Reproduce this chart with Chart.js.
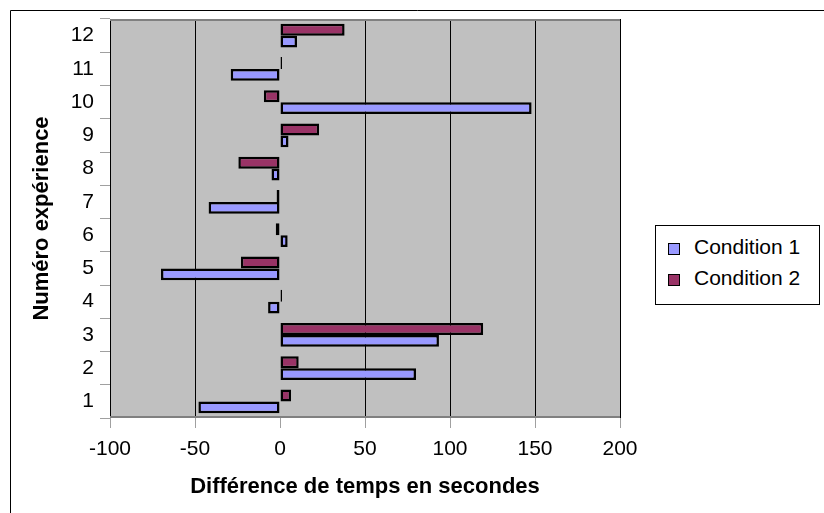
<!DOCTYPE html>
<html>
<head>
<meta charset="utf-8">
<script src="https://cdn.jsdelivr.net/npm/chart.js@4"></script>
<style>
    body { margin: 0; background: #fff; }
    #wrap { position: relative; width: 824px; height: 513px; }
    #legendBox {
        position: absolute; left: 655px; top: 225px; width: 165px; height: 80px;
        border: 1px solid #000; background: #fff; box-sizing: border-box;
        font-family: "Liberation Sans", Arial, sans-serif; font-size: 21px; color: #000;
    }
    .item { position: absolute; left: 12px; height: 24px; line-height: 24px; white-space: nowrap; }
    .swatch { display: inline-block; width: 10px; height: 10px; border: 1.5px solid #000; vertical-align: -1px; margin-right: 14px; }
</style>
</head>
<body>
<div id="wrap">
    <canvas id="chart" width="824" height="513"></canvas>
    <div id="legendBox"></div>
</div>
<script>
const experiences = ['1', '2', '3', '4', '5', '6', '7', '8', '9', '10', '11', '12'];
const condition1 = [-48, 80, 93.5, -7, -70, 4.5, -42, -5, 5, 148, -29, 10];
const condition2 = [6.5, 11, 119.5, 1.2, -23, -2.5, -2, -24.5, 23, -9.5, 1.2, 38];
const xTicks = [-100, -50, 0, 50, 100, 150, 200];
const seriesNames = ['Condition 1', 'Condition 2'];
const seriesColors = ['#9999FF', '#993366'];

const font = '"Liberation Sans", Arial, sans-serif';

// gray plot area + outer frame
const plotBg = {
    id: 'plotBg',
    beforeDraw(chart) {
        const { ctx, chartArea: a } = chart;
        ctx.save();
        ctx.fillStyle = '#C0C0C0';
        ctx.fillRect(a.left, a.top, a.right - a.left, a.bottom - a.top);
        ctx.strokeStyle = '#000';
        ctx.lineWidth = 1;
        ctx.beginPath();
        ctx.moveTo(10.5, 513);
        ctx.lineTo(10.5, 10.5);
        ctx.lineTo(824, 10.5);
        ctx.stroke();
        ctx.restore();
    },
    beforeDatasetsDraw(chart) {
        const { ctx, chartArea: a } = chart;
        ctx.save();
        ctx.strokeStyle = '#808080';
        ctx.lineWidth = 2;
        ctx.beginPath();
        ctx.moveTo(a.left, a.top + 1);
        ctx.lineTo(a.right, a.top + 1);
        ctx.moveTo(a.left, a.bottom - 1);
        ctx.lineTo(a.right, a.bottom - 1);
        ctx.stroke();
        ctx.restore();
    }
};

const ctx = document.getElementById('chart').getContext('2d');
new Chart(ctx, {
    type: 'bar',
    data: {
        labels: experiences,
        datasets: [
            { label: seriesNames[1], data: condition2, backgroundColor: seriesColors[1] },
            { label: seriesNames[0], data: condition1, backgroundColor: seriesColors[0] }
        ]
    },
    options: {
        indexAxis: 'y',
        responsive: false,
        animation: false,
        layout: { padding: { top: 19, right: 204, bottom: 0, left: 0 } },
        datasets: {
            bar: {
                borderColor: '#000',
                borderWidth: 2.5,
                borderSkipped: false,
                categoryPercentage: 0.72,
                barPercentage: 1
            }
        },
        plugins: { legend: { display: false }, tooltip: { enabled: false } },
        scales: {
            x: {
                min: xTicks[0],
                max: xTicks[xTicks.length - 1],
                afterFit(scale) { scale.height = 95; },
                afterBuildTicks(scale) { scale.ticks = xTicks.map(v => ({ value: v })); },
                ticks: { color: '#000', font: { family: font, size: 21 }, padding: 9 },
                grid: {
                    color: c => c.tick && c.tick.value === 0 ? 'rgba(0,0,0,0)' : '#000',
                    lineWidth: 1,
                    tickColor: '#A0A0A0',
                    tickLength: 10
                },
                border: { display: false },
                title: {
                    display: true,
                    text: 'Différence de temps en secondes',
                    color: '#000',
                    font: { family: font, size: 22, weight: 'bold' },
                    padding: { top: 0, bottom: 13 }
                }
            },
            y: {
                reverse: true,
                afterFit(scale) { scale.width = 110; },
                ticks: { color: '#000', font: { family: font, size: 21 }, padding: 6 },
                grid: {
                    offset: true,
                    drawOnChartArea: false,
                    tickColor: '#A0A0A0',
                    tickLength: 10
                },
                border: { display: false },
                title: {
                    display: true,
                    text: 'Numéro expérience',
                    color: '#000',
                    font: { family: font, size: 22, weight: 'bold' },
                    padding: { top: 29, bottom: 0 }
                }
            }
        }
    },
    plugins: [plotBg]
});

const legendBox = document.getElementById('legendBox');
legendBox.innerHTML = seriesNames.map((name, i) => `
    <div class="item" style="top:${9 + i * 31}px;"><span class="swatch" style="background:${seriesColors[i]};"></span>${name}</div>
`).join('');
</script>
</body>
</html>
